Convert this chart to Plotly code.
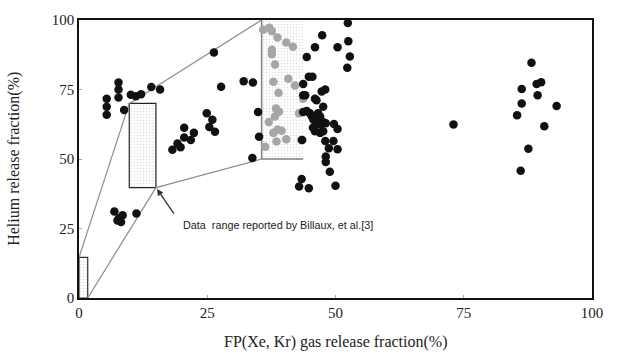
import plotly.graph_objects as go

# Dark (measured) points
dark_x = [5.4, 5.4, 5.4, 7.7, 7.7, 7.7, 8.8, 10.1, 11.1, 12.1, 14.1, 15.8,
          6.9, 8.5, 7.5, 8.2, 7.8, 11.2,
          18.2, 19.2, 19.8, 20.5, 20.5, 21.8, 22.4, 24.9, 26.0, 25.4, 26.5,
          26.3, 27.7, 32.1, 33.9, 34.9, 35.1, 33.8,
          52.4, 47.4, 46.0, 50.4, 52.5, 52.8, 44.4, 52.3, 44.8, 45.5, 43.7,
          47.3, 48.0, 44.1, 46.0, 46.3, 47.6, 44.4, 45.0, 45.4, 45.7, 46.6,
          47.0, 46.3, 47.0, 47.6, 48.1, 49.7, 50.4, 45.6, 46.0, 47.0, 47.6,
          48.0, 49.6, 48.7, 50.4, 48.1, 48.1, 48.9, 43.4, 42.9, 44.8, 50.0,
          43.7, 43.7, 43.5,
          73.0, 88.2, 86.3, 89.2, 90.1, 89.4, 86.3, 93.1, 85.4, 90.7, 87.6, 86.1]
dark_y = [71.7, 68.8, 65.9, 77.5, 75.0, 72.1, 67.6, 73.1, 72.6, 73.3, 75.9, 75.0,
          31.1, 29.8, 27.9, 27.3, 28.7, 30.4,
          53.3, 55.6, 54.2, 61.2, 57.7, 56.8, 59.4, 66.5, 64.1, 61.5, 59.8,
          88.3, 76.0, 78.0, 77.5, 66.9, 58.0, 50.4,
          98.9, 94.5, 90.2, 90.2, 92.4, 86.9, 86.7, 82.8, 79.6, 79.6, 77.0,
          74.3, 75.0, 72.9, 71.7, 71.1, 68.8, 67.3, 66.5, 65.3, 64.1, 66.5,
          65.3, 62.9, 62.4, 63.3, 62.9, 62.6, 60.8, 61.2, 60.0, 59.4, 60.0,
          56.5, 56.5, 53.9, 53.5, 50.9, 48.9, 45.4, 42.8, 40.1, 39.5, 40.4,
          72.9, 66.9, 56.8,
          62.4, 84.6, 75.2, 77.0, 77.6, 72.9, 70.0, 69.1, 65.7, 61.8, 53.7, 45.8]

# Points inside the reported data range (shown gray)
gray_x = [35.9, 37.1, 37.6, 38.7, 40.4, 41.7, 37.6, 37.6, 38.2, 40.8, 37.9,
          42.1, 38.9, 43.7, 38.4, 39.0, 38.2, 42.9, 37.0, 38.7, 39.5, 37.9,
          40.4, 38.5, 43.3, 36.3]
gray_y = [96.5, 97.2, 96.0, 93.7, 91.9, 90.4, 89.3, 87.7, 84.0, 78.9, 77.8,
          76.4, 73.8, 71.7, 68.2, 67.0, 65.3, 66.5, 63.3, 60.6, 60.2, 59.4,
          57.1, 56.3, 56.8, 54.4]

# Data ranges (x0, x1, y0, y1)
small_range = [0.0, 1.7, 0.0, 14.6]
billaux_range = [9.8, 15.0, 39.7, 70.0]
zoom_range = [35.6, 43.7, 50.0, 100.0]

x_ticks = [0, 25, 50, 75, 100]
y_ticks = [0, 25, 50, 75, 100]

fig = go.Figure()

pattern = dict(shape=".", size=3, solidity=0.2, fgcolor="#bdbdbd", bgcolor="white")


def rect_trace(r, linecolor, sides="all"):
    x0, x1, y0, y1 = r
    fig.add_trace(go.Scatter(x=[x0, x1, x1, x0, x0], y=[y0, y0, y1, y1, y0],
                             mode="none", fill="toself", fillpattern=pattern,
                             fillcolor="white", hoverinfo="skip", showlegend=False))
    if sides == "all":
        fig.add_trace(go.Scatter(x=[x0, x1, x1, x0, x0], y=[y0, y0, y1, y1, y0],
                                 mode="lines", line=dict(color=linecolor, width=1.2),
                                 hoverinfo="skip", showlegend=False))
    else:
        fig.add_trace(go.Scatter(x=[x0, x0, x1], y=[y1, y0, y0],
                                 mode="lines", line=dict(color=linecolor, width=1.5),
                                 hoverinfo="skip", showlegend=False))


rect_trace(small_range, "#333333")
rect_trace(billaux_range, "#222222")
rect_trace(zoom_range, "#808080", sides="lb")

# connecting lines
conn = [
    ([small_range[0], billaux_range[0]], [small_range[3], billaux_range[3]]),
    ([small_range[1], billaux_range[1]], [small_range[2], billaux_range[2]]),
    ([billaux_range[0], zoom_range[0]], [billaux_range[3], zoom_range[3]]),
    ([billaux_range[1], zoom_range[0]], [billaux_range[2], zoom_range[2]]),
]
for cx, cy in conn:
    fig.add_trace(go.Scatter(x=cx, y=cy, mode="lines",
                             line=dict(color="#8c8c8c", width=1.2),
                             hoverinfo="skip", showlegend=False))

fig.add_trace(go.Scatter(x=gray_x, y=gray_y, mode="markers",
                         marker=dict(size=8.5, color="#a6a6a6"), showlegend=False))
fig.add_trace(go.Scatter(x=dark_x, y=dark_y, mode="markers",
                         marker=dict(size=8.5, color="#111111"), showlegend=False))

fig.add_annotation(x=billaux_range[1] + 0.2, y=billaux_range[2] - 0.5,
                   ax=18.7, ay=29.8, axref="x", ayref="y",
                   showarrow=True, arrowhead=2, arrowsize=1, arrowwidth=1.3,
                   arrowcolor="#333333", text="")
fig.add_annotation(x=19.8, y=26.3, xanchor="left", yanchor="middle",
                   text="Data  range reported by Billaux, et al.[3]",
                   showarrow=False,
                   font=dict(family="Liberation Sans, Arial", size=10.8, color="#222222"))

serif = "Liberation Serif, Times New Roman, serif"
fig.add_annotation(xref="paper", yref="paper", x=-0.127, y=0.5,
                   text="Helium release fraction(%)", textangle=-90,
                   showarrow=False, xanchor="center", yanchor="middle",
                   font=dict(family=serif, size=16, color="#222222"))
fig.add_annotation(xref="paper", yref="paper", x=0.5, y=-0.16,
                   text="FP(Xe, Kr) gas release fraction(%)",
                   showarrow=False, xanchor="center", yanchor="middle",
                   font=dict(family=serif, size=16, color="#222222"))

axis_common = dict(showline=True, linecolor="#111111", linewidth=1.5, mirror=True,
                   showgrid=False, zeroline=False, ticks="inside", ticklen=3,
                   tickcolor="#aaaaaa", tickfont=dict(family=serif, size=15, color="#222222"))
fig.update_xaxes(range=[0, 100], tickvals=x_ticks, ticktext=[str(v) for v in x_ticks],
                 **axis_common)
fig.update_yaxes(range=[0, 100], tickvals=y_ticks, ticktext=[str(v) for v in y_ticks],
                 **axis_common)

fig.update_layout(width=617, height=361, margin=dict(l=79, r=25, t=13, b=63),
                  plot_bgcolor="white", paper_bgcolor="white", showlegend=False)

fig.write_html("out.html")
